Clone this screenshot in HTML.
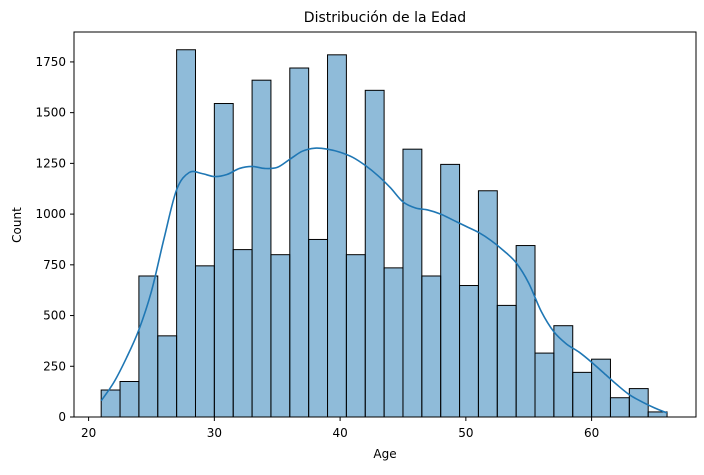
<!DOCTYPE html>
<html><head><meta charset="utf-8"><style>
body{margin:0;background:#fff;font-family:"Liberation Sans","DejaVu Sans",sans-serif}
text{font-family:"DejaVu Sans","Liberation Sans",sans-serif}
</style></head><body>
<svg id="chart" width="704" height="470" viewBox="0 0 704 470" xmlns="http://www.w3.org/2000/svg">
<rect width="704" height="470" fill="#fff"/>
<text x="385" y="22" font-size="14" text-anchor="middle">Distribución de la Edad</text>
<g id="bars"></g>
<path id="kde" fill="none" stroke="#1f77b4" stroke-width="1.6"/>
<rect x="74" y="32" width="622" height="385" fill="none" stroke="#000" stroke-width="1"/>
<g id="xticks"></g><g id="yticks"></g>
<text x="385" y="458" font-size="12" text-anchor="middle">Age</text>
<text x="21" y="225" font-size="12" text-anchor="middle" transform="rotate(-90 21 225)">Count</text>
</svg>
<script>
const binStart = 21, binWidth = 1.5;
const counts = [133,175,695,400,1810,745,1545,825,1660,800,1720,875,1785,800,1610,735,1320,695,1245,648,1115,550,845,315,450,220,285,95,140,25];
const kdeAges = [21,22,23,24,25,26,27,28,29,30,31,32,33,34,35,36,37,38,39,40,41,42,43,44,45,46,47,48,49,50,51,52,53,54,55,56,57,58,59,60,61,62,63,64,65,66];
const kdeCounts = [80,170,290,430,620,880,1120,1205,1200,1185,1195,1225,1235,1225,1230,1270,1310,1325,1320,1305,1280,1240,1190,1130,1060,1030,1020,1000,970,940,910,870,820,760,660,520,420,360,320,270,215,160,110,75,45,20];
const xTicks = [20,30,40,50,60];
const yTicks = [0,250,500,750,1000,1250,1500,1750];
const NS="http://www.w3.org/2000/svg";
const X = v => 88.6 + (v-20)*12.575;
const Y = c => 417 - c*0.2029;
const bars=document.getElementById('bars');
counts.forEach((c,i)=>{
  const r=document.createElementNS(NS,'rect');
  const x0=X(binStart+i*binWidth), x1=X(binStart+(i+1)*binWidth);
  r.setAttribute('x',x0);r.setAttribute('width',x1-x0);
  r.setAttribute('y',Y(c));r.setAttribute('height',417-Y(c));
  r.setAttribute('fill','rgba(31,119,180,0.5)');r.setAttribute('stroke','#000');r.setAttribute('stroke-width','1');
  
  
  bars.appendChild(r);
});
const pts=kdeAges.map((a,i)=>[X(a),Y(kdeCounts[i])]);
let d='M'+pts[0][0]+','+pts[0][1];
for(let i=0;i<pts.length-1;i++){
  const p0=pts[Math.max(i-1,0)],p1=pts[i],p2=pts[i+1],p3=pts[Math.min(i+2,pts.length-1)];
  const c1=[p1[0]+(p2[0]-p0[0])/6,p1[1]+(p2[1]-p0[1])/6];
  const c2=[p2[0]-(p3[0]-p1[0])/6,p2[1]-(p3[1]-p1[1])/6];
  d+=' C'+c1[0]+','+c1[1]+' '+c2[0]+','+c2[1]+' '+p2[0]+','+p2[1];
}
document.getElementById('kde').setAttribute('d',d);
const xt=document.getElementById('xticks');
xTicks.forEach(v=>{
  const l=document.createElementNS(NS,'line');
  l.setAttribute('x1',X(v));l.setAttribute('x2',X(v));l.setAttribute('y1',417);l.setAttribute('y2',421);l.setAttribute('stroke','#000');
  
  
  xt.appendChild(l);
  const t=document.createElementNS(NS,'text');
  t.setAttribute('x',X(v));t.setAttribute('y',437);t.setAttribute('font-size','12');t.setAttribute('text-anchor','middle');
  t.textContent=v;
  
  
  xt.appendChild(t);
});
const yt=document.getElementById('yticks');
yTicks.forEach(v=>{
  const l=document.createElementNS(NS,'line');
  l.setAttribute('x1',70);l.setAttribute('x2',74);l.setAttribute('y1',Y(v));l.setAttribute('y2',Y(v));l.setAttribute('stroke','#000');
  
  
  yt.appendChild(l);
  const t=document.createElementNS(NS,'text');
  t.setAttribute('x',66);t.setAttribute('y',Y(v)+4);t.setAttribute('font-size','12');t.setAttribute('text-anchor','end');
  t.textContent=v;
  
  
  yt.appendChild(t);
});
</script>
</body></html>
